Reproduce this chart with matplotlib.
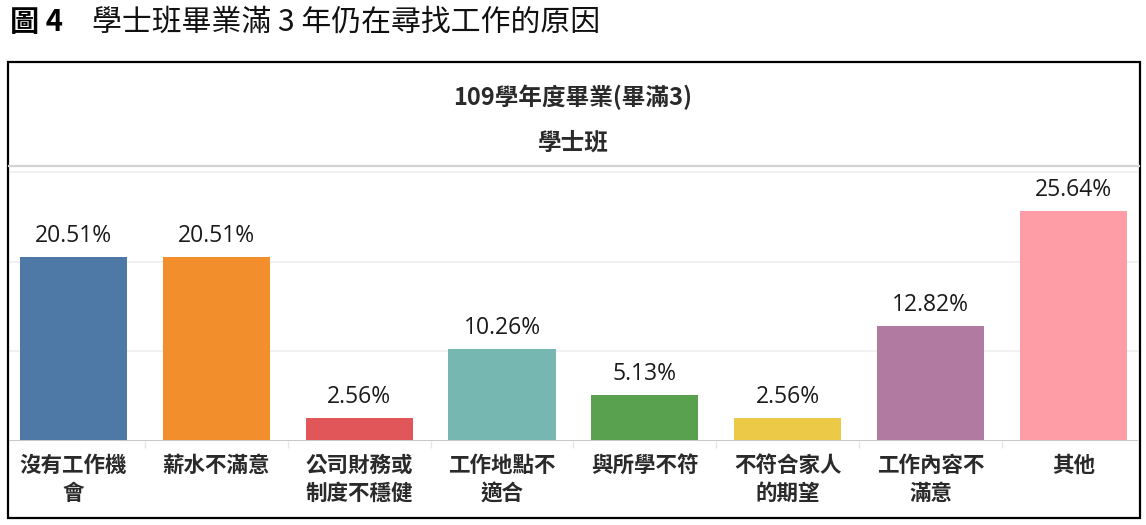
import matplotlib
matplotlib.use("Agg")
import matplotlib.pyplot as plt
from matplotlib.patches import Rectangle
from matplotlib.lines import Line2D

plt.rcParams["font.family"] = ["Noto Sans CJK TC", "DejaVu Sans"]

categories = [
    "沒有工作機\n會",
    "薪水不滿意",
    "公司財務或\n制度不穩健",
    "工作地點不\n適合",
    "與所學不符",
    "不符合家人\n的期望",
    "工作內容不\n滿意",
    "其他",
]
values = [20.51, 20.51, 2.56, 10.26, 5.13, 2.56, 12.82, 25.64]
colors = ["#4E79A7", "#F28E2B", "#E15759", "#76B7B2",
          "#59A14F", "#EDC948", "#B07AA1", "#FF9DA7"]
gridlines = [10, 20, 30]

W, H = 1146, 525
fig = plt.figure(figsize=(W / 100, H / 100), dpi=100)


def fx(px):
    return px / W


def fy(py):
    return 1 - py / H


# figure caption
fig.text(fx(10), fy(22), "圖 4", fontsize=21, fontweight="bold", va="center", ha="left")
fig.text(fx(92), fy(22), "學士班畢業滿 3 年仍在尋找工作的原因", fontsize=21.5,
         style="italic", va="center", ha="left", color="#111111")

# outer frame
fig.patches.append(Rectangle((fx(8), fy(518)), fx(1140) - fx(8), fy(62) - fy(518),
                             transform=fig.transFigure, fill=False,
                             edgecolor="black", linewidth=1.6))

# header
fig.text(fx(573), fy(97), "109學年度畢業(畢滿3)", fontsize=17, fontweight="bold",
         ha="center", va="center", color="#2a2a2a")
fig.text(fx(573), fy(143), "學士班", fontsize=17, fontweight="bold",
         ha="center", va="center", color="#2a2a2a")
fig.lines.append(Line2D([fx(9), fx(1139)], [fy(166), fy(166)], transform=fig.transFigure,
                        color="#d4d4d4", linewidth=1.6))

ax = fig.add_axes([fx(9), fy(441), fx(1138) - fx(9), fy(166) - fy(441)])
x = list(range(len(categories)))
ax.bar(x, values, width=0.75, color=colors, zorder=3)
for xi, v in zip(x, values):
    ax.annotate(f"{v:.2f}%", (xi, v), textcoords="offset points", xytext=(0, 6.5),
                ha="center", va="bottom", fontsize=16.5, color="#1a1a1a",
                family=["Open Sans", "DejaVu Sans"])

ax.set_xlim(-0.4515, 7.4515)
ax.set_ylim(0, 30.66)
for g in gridlines:
    ax.axhline(g, color="#efefef", linewidth=1.2, zorder=1)
ax.axhline(0, color="#c8c8c8", linewidth=1.4, zorder=4)

ax.set_yticks([])
ax.set_xticks([i + 0.5 for i in range(len(categories) - 1)], minor=True)
ax.tick_params(axis="x", which="minor", length=5, color="#e6e6e6", width=1)
ax.set_xticks(x)
ax.set_xticklabels(categories, fontsize=15.5, fontweight="bold", color="#2a2a2a",
                   linespacing=1.42, va="top")
ax.tick_params(axis="x", which="major", length=0, pad=10)
for spine in ax.spines.values():
    spine.set_visible(False)

fig.savefig("out.png", dpi=100)
